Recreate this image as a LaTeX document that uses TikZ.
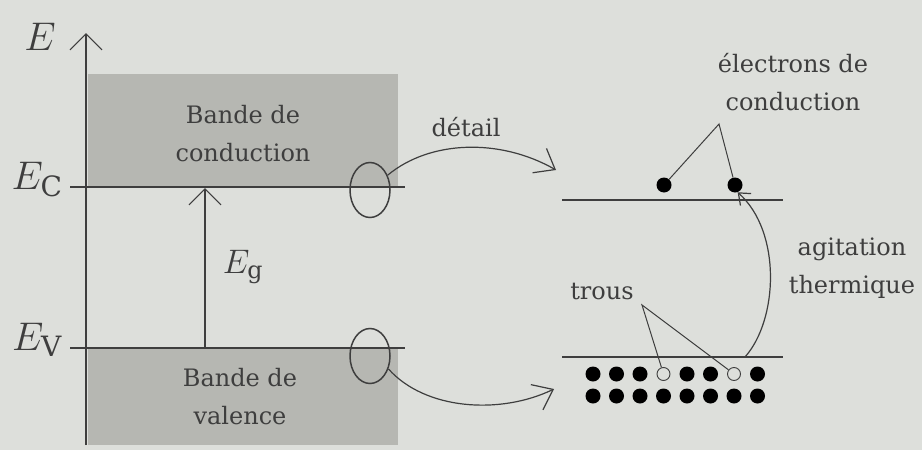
\RequirePackage{fix-cm}
\documentclass[tikz,border=0pt]{standalone}
\usepackage{fontspec}
\setmainfont{DejaVu Serif}
\usetikzlibrary{arrows.meta,shapes.geometric}

\definecolor{fond}{RGB}{221,223,219}
\definecolor{bande}{RGB}{182,183,178}
\definecolor{trait}{RGB}{62,62,62}

\tikzset{
  txt/.style={font=\fontsize{24}{38}\selectfont, text=trait, align=center, inner sep=0pt},
  lbl/.style={font=\fontsize{40}{40}\selectfont, text=trait, inner sep=0pt},
  niveau/.style={draw=trait, line width=1.4pt},
  fleche/.style={draw=trait, line width=1.2pt, -{Straight Barb[length=16pt,width=32pt,line width=1.2pt]}},
  courbe/.style={draw=trait, line width=1.2pt, -{Straight Barb[length=18pt,width=28pt,line width=1.2pt]}},
  loupe/.style={draw=trait, ellipse, line width=1.5pt, minimum width=40pt, minimum height=55pt},
  elec/.style={circle, fill=black, inner sep=0pt, minimum size=15pt},
  trou/.style={circle, draw=trait, fill=fond, line width=0.9pt, inner sep=0pt, minimum size=13pt},
}

\begin{document}
\begin{tikzpicture}[x=1pt,y=-1pt]

\fill[fond] (0,0) rectangle (922,450);
\useasboundingbox (0,0) rectangle (922,450);

% bandes
\fill[bande] (88,74) rectangle (398,187);
\fill[bande] (88,348) rectangle (398,445);
\node[txt] (bc) at (243,134) {Bande de\\conduction};
\node[txt] (bv) at (240,397) {Bande de\\valence};

% axe
\coordinate (bas) at (86,445);
\coordinate (haut) at (86,33);
\draw[fleche] (bas) -- (haut);
\node[lbl] (E) at (40,37) {$E$};

% niveaux
\coordinate (c0) at (70,187);
\coordinate (c1) at (405,187);
\coordinate (v0) at (70,348);
\coordinate (v1) at (405,348);
\draw[niveau] (c0) -- (c1);
\draw[niveau] (v0) -- (v1);
\node[lbl] (Ec) at (37,180) {$E_{\mathrm{C}}$};
\node[lbl] (Ev) at (37,340) {$E_{\mathrm{V}}$};

% gap
\coordinate (g0) at (205,348);
\coordinate (g1) at (205,188);
\draw[fleche] (g0) -- (g1);
\node[lbl, font=\fontsize{34}{34}\selectfont] (Eg) at (243,267) {$E_{\mathrm{g}}$};

% loupes
\node[loupe] (z1) at (370,190) {};
\node[loupe] (z2) at (370,356) {};
\coordinate (d1) at (556,170);
\coordinate (d2) at (554,389);
\draw[courbe] (z1.40) .. controls (430,140) and (500,138) .. (d1);
\draw[courbe] (z2.-35) .. controls (425,410) and (500,415) .. (d2);
\node[txt] (det) at (466,127) {détail};

% detail : conduction
\coordinate (hc0) at (562,200);
\coordinate (hc1) at (783,200);
\draw[niveau] (hc0) -- (hc1);
\node[elec] (e1) at (664,185) {};
\node[elec] (e2) at (735,185) {};
\node[txt] (lel) at (793,82) {électrons de\\conduction};
\coordinate (pe) at (719,124);
\draw[niveau, line width=1pt] (e1) -- (pe) -- (e2);

% detail : valence
\coordinate (hv0) at (562,357);
\coordinate (hv1) at (783,357);
\draw[niveau] (hv0) -- (hv1);
\foreach \i in {0,...,7} {
  \node[elec] (b\i) at (593+23.5*\i,396) {};
}
\foreach \i in {0,1,2,4,5,7} {
  \node[elec] (h\i) at (593+23.5*\i,374) {};
}
\node[trou] (h3) at (593+23.5*3,374) {};
\node[trou] (h6) at (593+23.5*6,374) {};
\node[txt] (ltr) at (602,292) {trous};
\coordinate (pt) at (642,305);
\draw[niveau, line width=1pt] (h3) -- (pt) -- (h6);

% agitation thermique
\coordinate (a0) at (745,357);
\draw[courbe, -{Straight Barb[length=10pt,width=16pt,line width=1.2pt]}] (a0) .. controls (778,320) and (782,232) .. (e2.-70);
\node[txt] (lag) at (852,268) {agitation\\thermique};

\end{tikzpicture}
\end{document}
